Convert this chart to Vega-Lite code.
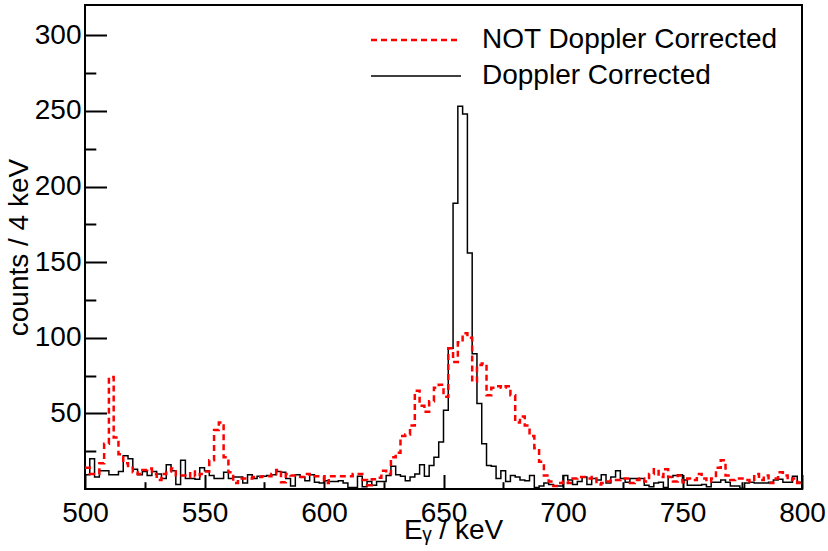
{
"$schema":"https://vega.github.io/schema/vega-lite/v6.json",
"width":717,"height":484,
"autosize":{"type":"none"},
"padding":{"left":85,"top":5,"right":26,"bottom":62},
"background":"white",
"config":{"view":{"stroke":"black","strokeWidth":2},"font":"Liberation Sans"},
"data":{"values":[
{"E":500,"dc":9.5,"ndc":14},{"E":502,"dc":20,"ndc":10},{"E":504,"dc":8,"ndc":10},{"E":506,"dc":12,"ndc":17},{"E":508,"dc":12,"ndc":30},
{"E":510,"dc":9.5,"ndc":74},{"E":512,"dc":9.5,"ndc":34},{"E":514,"dc":11.5,"ndc":23},{"E":516,"dc":22,"ndc":17},{"E":518,"dc":20,"ndc":14},
{"E":520,"dc":13,"ndc":11},{"E":522,"dc":9.5,"ndc":10},{"E":524,"dc":11.5,"ndc":12.5},{"E":526,"dc":9,"ndc":13.5},{"E":528,"dc":11.5,"ndc":10},
{"E":530,"dc":10,"ndc":6},{"E":532,"dc":7,"ndc":10},{"E":534,"dc":16,"ndc":11.5},{"E":536,"dc":12,"ndc":13.5},{"E":538,"dc":3,"ndc":9},
{"E":540,"dc":19,"ndc":9},{"E":542,"dc":7,"ndc":8},{"E":544,"dc":7,"ndc":11.5},{"E":546,"dc":6.5,"ndc":8.5},{"E":548,"dc":14,"ndc":10},
{"E":550,"dc":12,"ndc":11.5},{"E":552,"dc":9,"ndc":19},{"E":554,"dc":7,"ndc":39},{"E":556,"dc":7,"ndc":44},{"E":558,"dc":11,"ndc":21},
{"E":560,"dc":7,"ndc":11},{"E":562,"dc":8,"ndc":4},{"E":564,"dc":8,"ndc":7},{"E":566,"dc":4,"ndc":7},{"E":568,"dc":9.5,"ndc":7},
{"E":570,"dc":7,"ndc":8},{"E":572,"dc":8.5,"ndc":8},{"E":574,"dc":8.5,"ndc":8.5},{"E":576,"dc":9,"ndc":8.5},{"E":578,"dc":9.5,"ndc":10},
{"E":580,"dc":11.5,"ndc":12.5},{"E":582,"dc":11,"ndc":4.5},{"E":584,"dc":7,"ndc":10},{"E":586,"dc":2,"ndc":9},{"E":588,"dc":9.5,"ndc":9},
{"E":590,"dc":8,"ndc":8},{"E":592,"dc":5.5,"ndc":10},{"E":594,"dc":9.5,"ndc":8.5},{"E":596,"dc":4.5,"ndc":8.5},{"E":598,"dc":4,"ndc":8.5},
{"E":600,"dc":5.5,"ndc":4},{"E":602,"dc":5,"ndc":8.5},{"E":604,"dc":5,"ndc":8.5},{"E":606,"dc":5.5,"ndc":8.5},{"E":608,"dc":4,"ndc":8.5},
{"E":610,"dc":1,"ndc":8.5},{"E":612,"dc":1,"ndc":10},{"E":614,"dc":8.5,"ndc":10},{"E":616,"dc":1.5,"ndc":6},{"E":618,"dc":5,"ndc":2.5},
{"E":620,"dc":2.5,"ndc":6.5},{"E":622,"dc":5,"ndc":7.5},{"E":624,"dc":5,"ndc":12},{"E":626,"dc":9,"ndc":10},{"E":628,"dc":15,"ndc":21},
{"E":630,"dc":9.5,"ndc":24},{"E":632,"dc":8.5,"ndc":35},{"E":634,"dc":5.5,"ndc":36},{"E":636,"dc":8,"ndc":42},{"E":638,"dc":10,"ndc":65},
{"E":640,"dc":16,"ndc":55},{"E":642,"dc":8.5,"ndc":51},{"E":644,"dc":15.5,"ndc":58},{"E":646,"dc":21,"ndc":67},{"E":648,"dc":31,"ndc":69},
{"E":650,"dc":52,"ndc":61},{"E":652,"dc":93,"ndc":93},{"E":654,"dc":189,"ndc":84},{"E":656,"dc":253,"ndc":97},{"E":658,"dc":248,"ndc":103},
{"E":660,"dc":156,"ndc":100},{"E":662,"dc":89.5,"ndc":71},{"E":664,"dc":56.5,"ndc":82},{"E":666,"dc":30,"ndc":83},{"E":668,"dc":15.5,"ndc":62},
{"E":670,"dc":15,"ndc":67},{"E":672,"dc":7,"ndc":68},{"E":674,"dc":12,"ndc":67},{"E":676,"dc":5,"ndc":68},{"E":678,"dc":9,"ndc":62},
{"E":680,"dc":8,"ndc":44},{"E":682,"dc":6,"ndc":48},{"E":684,"dc":5.5,"ndc":42},{"E":686,"dc":9,"ndc":35},{"E":688,"dc":1,"ndc":27},
{"E":690,"dc":2,"ndc":18},{"E":692,"dc":4,"ndc":9},{"E":694,"dc":3,"ndc":5},{"E":696,"dc":2,"ndc":2},{"E":698,"dc":2,"ndc":4},
{"E":700,"dc":9,"ndc":5},{"E":702,"dc":6,"ndc":4},{"E":704,"dc":3,"ndc":7},{"E":706,"dc":5,"ndc":8},{"E":708,"dc":8,"ndc":8},
{"E":710,"dc":3,"ndc":7},{"E":712,"dc":7,"ndc":8},{"E":714,"dc":6,"ndc":3},{"E":716,"dc":9.5,"ndc":4},{"E":718,"dc":4,"ndc":5},
{"E":720,"dc":8,"ndc":6},{"E":722,"dc":12,"ndc":6},{"E":724,"dc":7,"ndc":7},{"E":726,"dc":4.5,"ndc":7},{"E":728,"dc":7,"ndc":4},
{"E":730,"dc":7,"ndc":6},{"E":732,"dc":7,"ndc":7},{"E":734,"dc":2.5,"ndc":5},{"E":736,"dc":1.5,"ndc":10},{"E":738,"dc":4,"ndc":13},
{"E":740,"dc":4.5,"ndc":8},{"E":742,"dc":1,"ndc":13},{"E":744,"dc":8,"ndc":8},{"E":746,"dc":9,"ndc":5},{"E":748,"dc":9.5,"ndc":9},
{"E":750,"dc":6,"ndc":4.5},{"E":752,"dc":2.5,"ndc":7},{"E":754,"dc":2.5,"ndc":6},{"E":756,"dc":2.5,"ndc":10},{"E":758,"dc":3,"ndc":7},
{"E":760,"dc":1.5,"ndc":5},{"E":762,"dc":4.5,"ndc":7},{"E":764,"dc":4.5,"ndc":14},{"E":766,"dc":6,"ndc":19},{"E":768,"dc":4.5,"ndc":9},
{"E":770,"dc":2,"ndc":6},{"E":772,"dc":2,"ndc":7},{"E":774,"dc":0.5,"ndc":7},{"E":776,"dc":4,"ndc":6},{"E":778,"dc":4.5,"ndc":5},
{"E":780,"dc":4,"ndc":10},{"E":782,"dc":4,"ndc":6},{"E":784,"dc":4,"ndc":9},{"E":786,"dc":4.5,"ndc":4},{"E":788,"dc":6,"ndc":7},
{"E":790,"dc":6.5,"ndc":11},{"E":792,"dc":4.5,"ndc":9},{"E":794,"dc":4.5,"ndc":6},{"E":796,"dc":8.5,"ndc":7},{"E":798,"dc":4.5,"ndc":4},
{"E":800,"dc":4.5,"ndc":4}
]},
"transform":[{"fold":["dc","ndc"],"as":["series","count"]}],
"encoding":{
"color":{"field":"series","type":"nominal","scale":{"domain":["ndc","dc"],"range":["#ff0000","#000000"]},
 "legend":{"orient":"none","legendX":317,"legendY":21,"title":null,"padding":0,"labelLimit":0,
  "labelExpr":"datum.value == 'ndc' ? 'NOT Doppler Corrected' : 'Doppler Corrected'",
  "labelFontSize":28,"labelColor":"black","labelFont":"Liberation Sans","symbolType":"M-4.5,0H4.5","symbolSize":400,
  "labelOffset":52,"rowPadding":8,"symbolStrokeWidth":2}},
"strokeDash":{"field":"series","type":"nominal","scale":{"domain":["ndc","dc"],"range":[[6,4],[1,0]]}},
"strokeWidth":{"field":"series","type":"nominal","scale":{"domain":["ndc","dc"],"range":[2.5,1.5]}}
},
"layer":[
{"transform":[{"filter":"datum.series == 'dc'"}],
 "mark":{"type":"line","interpolate":"step-after","clip":true},
 "encoding":{
 "x":{"field":"E","type":"quantitative","scale":{"domain":[500,800],"nice":false,"zero":false},
  "axis":{"orient":"bottom","title":"Eᵧ  / keV","titleX":368,"values":[500,550,600,650,700,750,800],
   "tickSize":-14.5,"ticks":true,"domain":false,"grid":false,
   "labelFontSize":28,"labelColor":"black","labelPadding":24.5,"labelFlush":false,"labelOverlap":false,"labelFont":"Liberation Sans",
   "titleFontSize":28,"titleFontWeight":"normal","titleColor":"black","titlePadding":-11,"titleFont":"Liberation Sans",
   "tickColor":"black","tickWidth":2}},
 "y":{"field":"count","type":"quantitative","scale":{"domain":[0,320],"nice":false,"zero":true},
  "axis":{"orient":"left","title":"counts / 4 keV","values":[50,100,150,200,250,300],
   "tickSize":-21.5,"ticks":true,"domain":false,"grid":false,
   "labelFontSize":28,"labelColor":"black","labelPadding":25.5,"labelFlush":false,"labelOverlap":false,"labelFont":"Liberation Sans",
   "titleFontSize":28,"titleFontWeight":"normal","titleColor":"black","titlePadding":1,"titleFont":"Liberation Sans",
   "tickColor":"black","tickWidth":2}}
 }},
{"transform":[{"filter":"datum.series == 'ndc'"}],
 "mark":{"type":"line","interpolate":"step-after","clip":true},
 "encoding":{
 "x":{"field":"E","type":"quantitative",
  "axis":{"orient":"bottom","title":null,"values":[525,575,625,675,725,775],"labels":false,
   "tickSize":-7.3,"ticks":true,"domain":false,"grid":false,"tickColor":"black","tickWidth":2}},
 "y":{"field":"count","type":"quantitative",
  "axis":{"orient":"left","title":null,"values":[25,75,125,175,225,275],"labels":false,
   "tickSize":-10.8,"ticks":true,"domain":false,"grid":false,"tickColor":"black","tickWidth":2}}
 }}
],
"resolve":{"axis":{"x":"independent","y":"independent"}}
}
